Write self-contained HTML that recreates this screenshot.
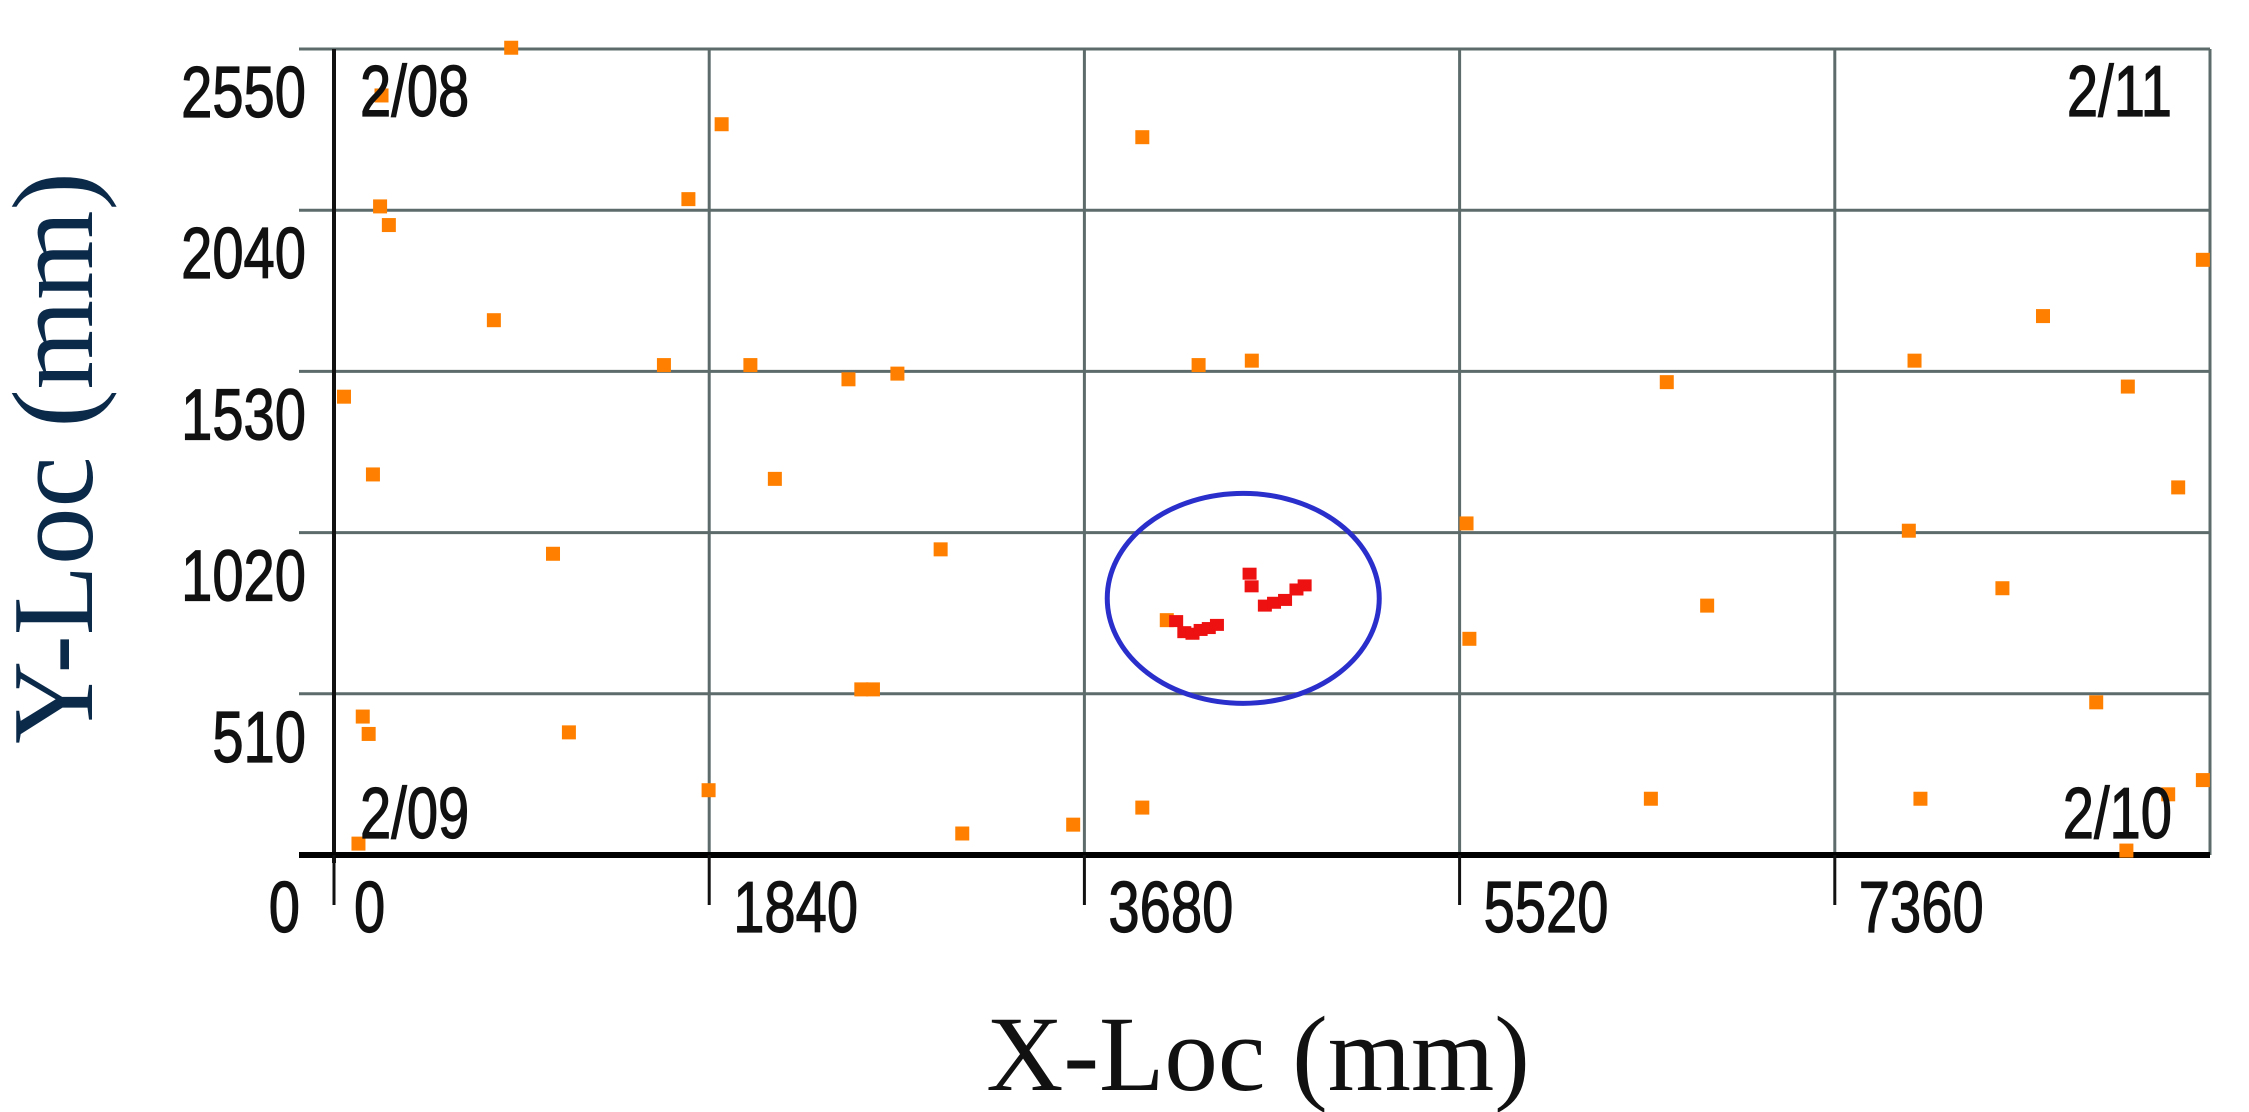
<!DOCTYPE html>
<html><head><meta charset="utf-8"><style>
body{margin:0;background:#fff}
svg{display:block}
.t{font-family:"Liberation Sans",sans-serif;font-size:72px;fill:#111;stroke:#111;stroke-width:1.2}
</style></head><body>
<svg id="chart" width="2249" height="1112" viewBox="0 0 2249 1112" xmlns="http://www.w3.org/2000/svg">
<g id="grid"></g>
<g id="ticks"></g>
<g id="pts"></g>
<g id="corner"></g>
<text x="1258" y="1090" text-anchor="middle" font-family="Liberation Serif, serif" font-size="107" fill="#111">X-Loc (mm)</text>
<text transform="translate(92,458) rotate(-90)" text-anchor="middle" font-family="Liberation Serif, serif" font-size="115" fill="#0b2a4a">Y-Loc (mm)</text>
</svg>
<script>
const xTicks=[0,1840,3680,5520,7360,9200];
const yTicks=[0,510,1020,1530,2040,2550];
const xTickLabels=["0","1840","3680","5520","7360"];
const yTickLabels=["510","1020","1530","2040","2550"];
const orangeX=[869,233,1901,3964,1738,226,269,9165,784,8381,1618,2042,4240,4501,7751,2523,2763,6536,8797,49,191,2162,9044,5554,7723,1074,2975,8182,6734,5568,4084,2586,2643,141,170,1152,8642,1837,6458,7780,9165,8995,3964,3625,3081,120,8790];
const orangeY=[2554,2403,2312,2271,2075,2052,1993,1883,1692,1705,1550,1550,1550,1564,1564,1505,1523,1496,1482,1450,1204,1190,1163,1049,1026,953,967,844,789,684,743,524,524,438,383,388,483,205,178,178,237,192,150,96,68,36,14];
const redX=[4130,4170,4210,4250,4290,4330,4490,4500,4565,4610,4664,4720,4760];
const redY=[740,705,700,712,718,728,890,850,789,798,807,840,853];
const circle={cx:4459,cy:812};
const cornerLabels=["2/08","2/11","2/09","2/10"];
const L=334,R=2210,T=49,B=855;
const sx=v=>L+(v-0)/(9200-0)*(R-L);
const sy=v=>B-(v-0)/(2550-0)*(B-T);
const NS="http://www.w3.org/2000/svg";
function mk(p,tag,attrs){const e=document.createElementNS(NS,tag);for(const k in attrs)e.setAttribute(k,attrs[k]);p.appendChild(e);return e;}
function txt(p,x,y,s,anchor){const e=mk(p,'text',{x:0,y:0,class:'t','text-anchor':anchor,transform:`translate(${x},${y}) scale(0.78,1)`});e.textContent=s;return e;}
const g=document.getElementById('grid'),tk=document.getElementById('ticks'),pts=document.getElementById('pts'),cn=document.getElementById('corner');
xTicks.forEach((v,i)=>{if(i===0)return;const l=mk(g,'line',{x1:sx(v),x2:sx(v),y1:T,y2:B,stroke:'#5d6b6b','stroke-width':3});

});
yTicks.forEach((v,i)=>{if(i===0)return;const l=mk(g,'line',{x1:L-35,x2:R,y1:sy(v),y2:sy(v),stroke:'#5d6b6b','stroke-width':3});

});
const ya=mk(g,'line',{x1:L,x2:L,y1:T,y2:B+8,stroke:'#111','stroke-width':4});


const xa=mk(g,'line',{x1:L-35,x2:R,y1:B,y2:B,stroke:'#000','stroke-width':6});


xTicks.forEach((v,i)=>{if(i===5)return;const l=mk(tk,'line',{x1:sx(v),x2:sx(v),y1:B,y2:B+50,stroke:'#111','stroke-width':3});


const t=txt(tk,sx(v)+(i===0?20:24),932,xTickLabels[i],'start');

});
const z=txt(tk,300,932,"0",'end');


yTickLabels.forEach((s,i)=>{const t=txt(tk,306,sy(yTicks[i+1])+68,s,'end');

});
const cpos=[[360,116],[2172,116],[360,838],[2172,838]];
cornerLabels.forEach((s,i)=>{const t=txt(cn,cpos[i][0],cpos[i][1],s,i%2?'end':'start');

});
orangeX.forEach((v,i)=>{const r=mk(pts,'rect',{x:sx(v)-7,y:sy(orangeY[i])-7,width:14,height:14,fill:'#ff8000'});

});
redX.forEach((v,i)=>{const r=mk(pts,'rect',{x:sx(v)-7,y:sy(redY[i])-6,width:14,height:12,fill:'#ee1111'});

});
const c=mk(pts,'ellipse',{cx:sx(circle.cx),cy:sy(circle.cy),rx:136,ry:105,fill:'none',stroke:'#2a2fcc','stroke-width':5});


</script>
</body></html>
